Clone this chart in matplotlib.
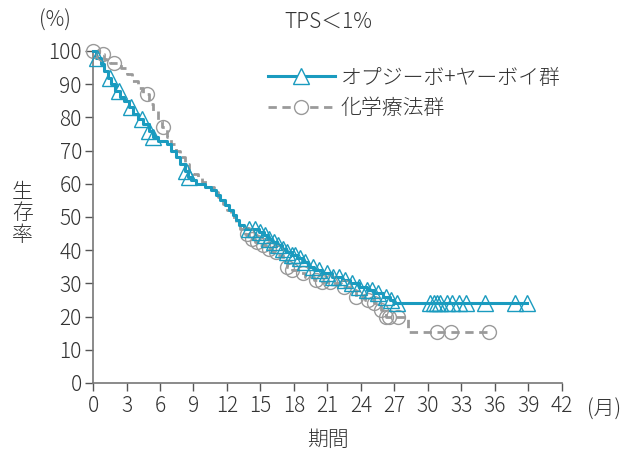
import numpy as np
import matplotlib
matplotlib.use('Agg')
import matplotlib.pyplot as plt
from matplotlib.lines import Line2D

plt.rcParams['font.family'] = ['Noto Sans CJK JP', 'DejaVu Sans']
plt.rcParams['font.weight'] = 'light'

BLUE = '#1a9bbf'
GRAY = '#9a9a9a'
TXT = '#333333'
FS = 15

# オプジーボ+ヤーボイ群: step times and survival (%) after each step
nivo_t = [0, 0.3, 0.7, 1.0, 1.3, 1.6, 2.0, 2.4, 2.8, 3.2, 3.6, 4.0, 4.5, 5.0, 5.4,
          5.8, 6.6, 7.0, 7.4, 7.8, 8.2, 8.5, 8.8, 9.2, 10.0, 10.6, 11.0, 11.4, 11.8,
          12.2, 12.5, 12.8, 13.1, 13.5, 14.9, 15.3, 15.7, 16.0, 16.5, 16.9, 17.3,
          17.8, 18.3, 18.8, 19.3, 19.8, 20.5, 21.4, 22.3, 23.0, 23.8, 24.5, 25.2,
          26.0, 26.6, 27.0]
nivo_s = [100, 98, 96, 94, 92, 90, 88, 86, 85, 83, 81, 79.5, 78, 76, 74,
          73, 72, 70, 68, 66, 64, 62, 61, 60, 59, 58, 56.5, 55, 53.5,
          52, 50.5, 49, 47.5, 46.5, 45.5, 44.5, 43.5, 42.5, 41.5, 40.5, 39.5,
          38.5, 37.5, 36.5, 35, 34, 33, 32, 31, 30, 29, 28, 27,
          26, 25, 24]
nivo_end = 38.9
nivo_cens = [0.4, 1.5, 2.3, 3.4, 4.4, 5.0, 5.4, 8.3, 8.6, 14.0, 14.5, 15.0, 15.4,
             15.8, 16.2, 16.6, 17.0, 17.4, 17.8, 18.1, 18.5, 19.0, 19.7, 20.2, 21.0,
             21.5, 22.0, 22.6, 23.2, 23.8, 24.5, 25.0, 25.5, 26.2, 26.7, 27.2,
             30.2, 30.5, 30.8, 31.1, 31.7, 32.2, 32.8, 33.4, 35.1, 37.8, 38.9]

# 化学療法群
chemo_t = [0, 0.5, 1.0, 1.5, 2.5, 3.0, 3.5, 4.0, 4.5, 5.0, 5.4, 5.8, 6.2, 6.6,
           7.0, 7.4, 7.8, 8.2, 8.6, 9.0, 9.4, 9.8, 10.3, 10.8, 11.2, 11.6, 12.0,
           12.4, 12.8, 13.2, 13.6, 14.0, 14.5, 15.0, 15.5, 16.0, 16.5, 17.0, 17.4,
           17.8, 18.4, 19.0, 19.8, 20.5, 21.5, 22.2, 23.0, 23.6, 24.4, 25.2, 25.8,
           26.2, 28.2]
chemo_s = [100, 99, 97.5, 96.5, 95, 93, 91, 89, 87, 84, 82, 79, 77, 74,
           72, 70, 68, 66, 64, 63, 62, 60.5, 59, 57.5, 56, 54, 52,
           50, 48.5, 46.5, 45, 43.5, 42.5, 41.5, 40.5, 39.5, 38.5, 37, 35,
           34, 33, 32, 31, 30.5, 30, 29, 28, 26, 25, 24, 22,
           20, 15.5]
chemo_end = 35.5
chemo_cens = [0.0, 0.9, 1.9, 4.8, 6.3, 13.8, 14.2, 14.7, 15.2, 15.8, 16.4, 17.4,
              17.8, 18.8, 20.0, 20.5, 21.2, 22.5, 23.6, 24.6, 25.2, 25.8, 26.2,
              26.5, 27.3, 30.8, 32.1, 35.5]


def step_at(times, surv, x):
    idx = np.searchsorted(times, x, side='right') - 1
    return np.asarray(surv)[idx]


fig = plt.figure(figsize=(6.26, 4.59), dpi=100)
ax = fig.add_axes([0.1486, 0.1656, 0.749, 0.7233])

for t, s, end, cens, col, ls, mk, ms in [
        (chemo_t, chemo_s, chemo_end, chemo_cens, GRAY, (0, (3, 2)), 'o', 10),
        (nivo_t, nivo_s, nivo_end, nivo_cens, BLUE, '-', '^', 11)]:
    xs = list(t) + [end]
    ys = list(s) + [s[-1]]
    ax.step(xs, ys, where='post', color=col, lw=2.0 if ls != '-' else 2.2,
            linestyle=ls, clip_on=False, zorder=3)
    ax.plot(cens, step_at(t, s, cens), linestyle='none', marker=mk, ms=ms,
            mfc='none', mec=col, mew=1.0, clip_on=False, zorder=4)

ax.set_xlim(0, 42)
ax.set_ylim(0, 100)
ax.set_xticks(np.arange(0, 43, 3))
ax.set_yticks(np.arange(0, 101, 10))
for sp in ['top', 'right']:
    ax.spines[sp].set_visible(False)
for sp in ['left', 'bottom']:
    ax.spines[sp].set_color('#777777')
    ax.spines[sp].set_linewidth(1.2)
ax.tick_params(direction='out', length=6, width=1.0, color='#555555',
               labelsize=FS, labelcolor=TXT)
ax.tick_params(axis='x', pad=3)
ax.tick_params(axis='y', pad=2)

fig.text(0.088, 0.955, '(%)', fontsize=FS, color=TXT, ha='center', va='center')
fig.text(0.524, 0.952, 'TPS＜1%', fontsize=FS, color=TXT, ha='center', va='center')
fig.text(0.965, 0.107, '(月)', fontsize=FS, color=TXT, ha='center', va='center')
fig.text(0.524, 0.042, '期間', fontsize=FS, color=TXT, ha='center', va='center')
fig.text(0.036, 0.535, '生\n存\n率', fontsize=FS, color=TXT, ha='center', va='center',
         linespacing=0.95)

handles = [Line2D([], [], color=BLUE, lw=2.2, marker='^', ms=11, mfc='white', mec=BLUE, mew=1.0),
           Line2D([], [], color=GRAY, lw=2.0, linestyle=(0, (3, 2)), marker='o', ms=10,
                  mfc='white', mec=GRAY, mew=1.0)]
fig.legend(handles, ['オプジーボ+ヤーボイ群', '化学療法群'], loc='upper left',
           bbox_to_anchor=(0.428, 0.855), frameon=False, fontsize=FS,
           handlelength=3.2, handletextpad=0.3, labelspacing=0.4, labelcolor=TXT,
           borderpad=0, borderaxespad=0)

fig.savefig('out.png', dpi=100)
